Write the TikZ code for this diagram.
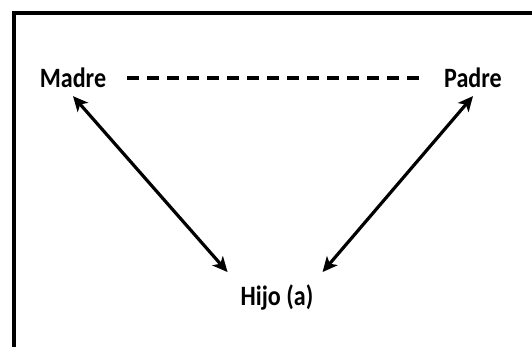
\documentclass[tikz,border=0pt]{standalone}
\usepackage{fontspec}
\setmainfont{Carlito}
\usetikzlibrary{arrows.meta}
\newcommand{\narrowtxt}[1]{\scalebox{0.86}[1]{#1}}
\begin{document}
\begin{tikzpicture}[x=1pt,y=-1pt,
  lbl/.style={font=\bfseries\fontsize{28}{30}\selectfont, inner sep=0pt, text=black},
  rel/.style={line width=3.2pt, {Stealth[length=15pt,width=14pt,inset=4pt]}-{Stealth[length=15pt,width=14pt,inset=4pt]}},
  link/.style={line width=3.2pt, dash pattern=on 12pt off 8pt}]
\useasboundingbox (0,0) rectangle (532,347);
\fill[white] (0,0) rectangle (532,347);
\draw[line width=3.8pt] (14,347) -- (14,13) -- (534,13);
\node[lbl] (madre) at (73,78) {\narrowtxt{Madre}};
\node[lbl] (padre) at (473,78) {\narrowtxt{Padre}};
\node[lbl] (hijo) at (277,297) {\narrowtxt{Hijo (a)}};
\draw[link] ([xshift=21pt]madre.east) -- ([xshift=-21pt]padre.west);
\draw[rel] ([yshift=-8pt]madre.south) -- ([xshift=-13pt,yshift=12pt]hijo.north west);
\draw[rel] ([yshift=-8pt]padre.south) -- ([xshift=82pt,yshift=12pt]hijo.north west);
\end{tikzpicture}
\end{document}
